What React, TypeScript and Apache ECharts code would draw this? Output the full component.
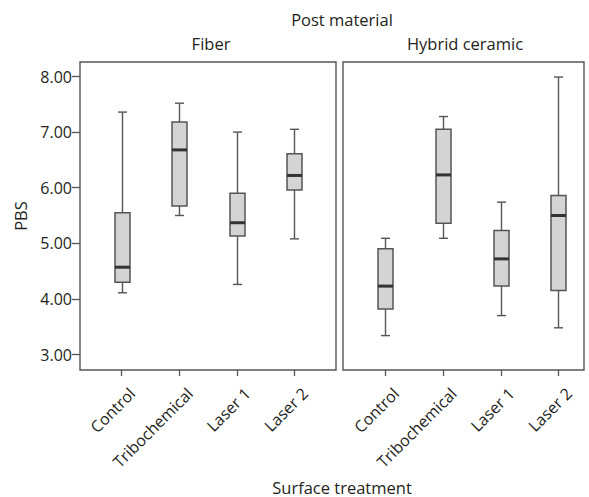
import React, { useEffect, useRef } from "react";
import * as echarts from "echarts";

const categories = ["Control", "Tribochemical", "Laser 1", "Laser 2"];
const panels = ["Fiber", "Hybrid ceramic"];
const yTicks = [3, 4, 5, 6, 7, 8];

// [low, Q1, median, Q3, high]
const fiberStats = [
  [4.11, 4.3, 4.57, 5.55, 7.36],
  [5.5, 5.67, 6.68, 7.18, 7.52],
  [4.26, 5.13, 5.37, 5.9, 7.0],
  [5.08, 5.96, 6.22, 6.61, 7.05],
];
const hybridStats = [
  [3.34, 3.82, 4.23, 4.9, 5.09],
  [5.09, 5.36, 6.23, 7.05, 7.28],
  [3.7, 4.23, 4.72, 5.23, 5.74],
  [3.48, 4.15, 5.5, 5.86, 7.99],
];

const FONT = "'Open Sans', sans-serif";
const TEXT = "#231f20";

export default function App() {
  const ref = useRef<HTMLDivElement>(null);
  useEffect(() => {
    if (!ref.current) return;
    const chart = echarts.init(ref.current, undefined, { renderer: "svg" });

    const renderBox = (params: any, api: any) => {
      const x = api.value(0);
      const low = api.coord([x, api.value(1)]);
      const q1 = api.coord([x, api.value(2)]);
      const med = api.coord([x, api.value(3)]);
      const q3 = api.coord([x, api.value(4)]);
      const high = api.coord([x, api.value(5)]);
      const cx = Math.round(low[0]) + 0.5;
      const bw = 15;
      const cw = 9;
      const lineStyle = { stroke: "#555", lineWidth: 1.4 };
      return {
        type: "group",
        children: [
          { type: "line", shape: { x1: cx, y1: high[1], x2: cx, y2: q3[1] }, style: lineStyle },
          { type: "line", shape: { x1: cx, y1: q1[1], x2: cx, y2: low[1] }, style: lineStyle },
          { type: "line", shape: { x1: cx - cw / 2, y1: high[1], x2: cx + cw / 2, y2: high[1] }, style: lineStyle },
          { type: "line", shape: { x1: cx - cw / 2, y1: low[1], x2: cx + cw / 2, y2: low[1] }, style: lineStyle },
          {
            type: "rect",
            shape: { x: cx - bw / 2, y: q3[1], width: bw, height: q1[1] - q3[1] },
            style: { fill: "#d4d4d4", stroke: "#555", lineWidth: 1.5 },
          },
          {
            type: "line",
            shape: { x1: cx - bw / 2, y1: med[1], x2: cx + bw / 2, y2: med[1] },
            style: { stroke: "#333", lineWidth: 3 },
          },
        ],
      };
    };

    const toData = (stats: number[][]) => stats.map((s, i) => [i, ...s]);

    const xAxisBase = (gridIndex: number) => ({
      type: "category",
      gridIndex,
      data: categories,
      boundaryGap: true,
      offset: 15.5,
      axisLine: { show: false },
      axisTick: { show: true, alignWithLabel: true, length: 6, lineStyle: { color: "#555", width: 1.3 } },
      axisLabel: {
        rotate: 45,
        margin: 10,
        fontSize: 16,
        color: TEXT,
        fontFamily: FONT,
        interval: 0,
        align: "right",
        verticalAlign: "top",
        padding: [7, 0, 0, 0],
      },
      splitLine: { show: false },
    });

    const yAxisBase = (gridIndex: number, show: boolean) => ({
      type: "value",
      gridIndex,
      min: yTicks[0],
      max: yTicks[yTicks.length - 1],
      interval: 1,
      show,
      offset: 12.8,
      axisLine: { show: false },
      axisTick: { show: true, length: 8, lineStyle: { color: "#555", width: 1.3 } },
      axisLabel: {
        margin: 8,
        fontSize: 16,
        color: TEXT,
        fontFamily: FONT,
        formatter: (v: number) => v.toFixed(2),
      },
      splitLine: { show: false },
    });

    const titleFont = `16.5px ${FONT}`;

    chart.setOption({
      animation: false,
      backgroundColor: "#fff",
      grid: [
        { left: 92.8, top: 76.5, width: 230.4, height: 278 },
        { left: 356.6, top: 76.5, width: 230.7, height: 278 },
      ],
      xAxis: [xAxisBase(0), xAxisBase(1)],
      yAxis: [yAxisBase(0, true), yAxisBase(1, false)],
      series: [
        { type: "custom", xAxisIndex: 0, yAxisIndex: 0, data: toData(fiberStats), renderItem: renderBox, clip: false },
        { type: "custom", xAxisIndex: 1, yAxisIndex: 1, data: toData(hybridStats), renderItem: renderBox, clip: false },
      ],
      graphic: [
        { type: "rect", shape: { x: 80, y: 62, width: 256, height: 308 }, style: { fill: "none", stroke: "#555", lineWidth: 1.4 }, z: 10 },
        { type: "rect", shape: { x: 343, y: 62, width: 241, height: 308 }, style: { fill: "none", stroke: "#555", lineWidth: 1.4 }, z: 10 },
        { type: "text", x: 342, y: 19, style: { text: "Post material", fill: TEXT, font: titleFont, align: "center", verticalAlign: "middle" } },
        { type: "text", x: 211, y: 43, style: { text: panels[0], fill: TEXT, font: titleFont, align: "center", verticalAlign: "middle" } },
        { type: "text", x: 465, y: 43, style: { text: panels[1], fill: TEXT, font: titleFont, align: "center", verticalAlign: "middle" } },
        { type: "text", x: 342, y: 487, style: { text: "Surface treatment", fill: TEXT, font: titleFont, align: "center", verticalAlign: "middle" } },
        { type: "text", x: 20, y: 216, rotation: Math.PI / 2, style: { text: "PBS", fill: TEXT, font: titleFont, align: "center", verticalAlign: "middle" } },
      ],
    });
    return () => chart.dispose();
  }, []);
  return <div ref={ref} style={{ width: 589, height: 497, position: "absolute", left: 0, top: 0 }} />;
}
